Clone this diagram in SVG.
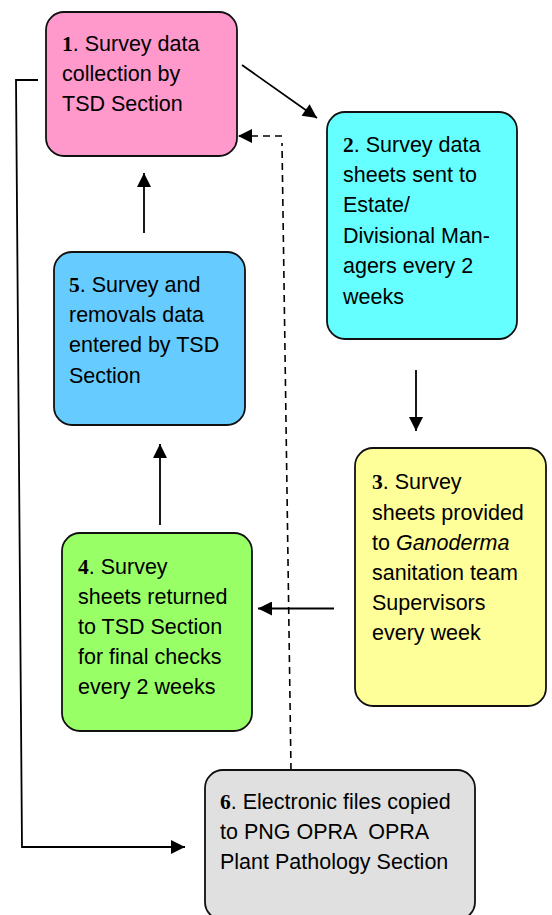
<svg xmlns="http://www.w3.org/2000/svg" width="552" height="915" viewBox="0 0 552 915">
<style>
.box{stroke:#111;stroke-width:1.8}
.t{font-family:"Liberation Sans",Arial,sans-serif;font-size:21.5px;fill:#000}
.n{font-family:"Liberation Serif","Times New Roman",serif;font-weight:bold}
.c{fill:none;stroke:#000;stroke-width:1.8}
.d{fill:none;stroke:#000;stroke-width:1.6;stroke-dasharray:7 5}
</style>
<defs>
<marker id="ah" viewBox="0 0 10 10" refX="10" refY="5" markerWidth="16" markerHeight="14" markerUnits="userSpaceOnUse" orient="auto">
<path d="M0,0 L10,5 L0,10 z" fill="#000"/>
</marker>
</defs>
<rect width="552" height="915" fill="#fff"/>
<g id="connectors">
<path class="c" d="M242,65 L317,118" marker-end="url(#ah)"/>
<path class="c" d="M416,370 L416,431" marker-end="url(#ah)"/>
<path class="c" d="M334,608.5 L258,608.5" marker-end="url(#ah)"/>
<path class="c" d="M160,525 L160,444" marker-end="url(#ah)"/>
<path class="c" d="M144,233 L144,173" marker-end="url(#ah)"/>
<path class="c" d="M38,80 L16,80 L22,847 L185,847" marker-end="url(#ah)"/>
<path class="d" d="M291,770 L282,143"/>
<path class="d" d="M282,136 L238,136" marker-end="url(#ah)"/>
</g>
<g id="node1">
<rect class="box" x="46" y="12" width="191" height="144" rx="18" fill="#FF99CC"/>
<text class="t" x="62" y="51"><tspan class="n">1</tspan>. Survey data</text>
<text class="t" x="62" y="81">collection by</text>
<text class="t" x="62" y="111">TSD Section</text>
</g>
<g id="node2">
<rect class="box" x="327" y="112" width="190" height="227" rx="18" fill="#66FFFF"/>
<text class="t" x="343" y="152"><tspan class="n">2</tspan>. Survey data</text>
<text class="t" x="343" y="182">sheets sent to</text>
<text class="t" x="343" y="212">Estate/</text>
<text class="t" x="343" y="243">Divisional Man-</text>
<text class="t" x="343" y="273">agers every 2</text>
<text class="t" x="343" y="304">weeks</text>
</g>
<g id="node3">
<rect class="box" x="355" y="448" width="191" height="258" rx="18" fill="#FFFF99"/>
<text class="t" x="372" y="489"><tspan class="n">3</tspan>. Survey</text>
<text class="t" x="372" y="520">sheets provided</text>
<text class="t" x="372" y="550">to <tspan font-style="italic">Ganoderma</tspan></text>
<text class="t" x="372" y="580">sanitation team</text>
<text class="t" x="372" y="610">Supervisors</text>
<text class="t" x="372" y="640">every week</text>
</g>
<g id="node4">
<rect class="box" x="62" y="533" width="190" height="198" rx="18" fill="#99FF66"/>
<text class="t" x="78" y="574"><tspan class="n">4</tspan>. Survey</text>
<text class="t" x="78" y="604">sheets returned</text>
<text class="t" x="78" y="634">to TSD Section</text>
<text class="t" x="78" y="664">for final checks</text>
<text class="t" x="78" y="694">every 2 weeks</text>
</g>
<g id="node5">
<rect class="box" x="54" y="252" width="191" height="173" rx="18" fill="#66CCFF"/>
<text class="t" x="69" y="292"><tspan class="n">5</tspan>. Survey and</text>
<text class="t" x="69" y="322">removals data</text>
<text class="t" x="69" y="352">entered by TSD</text>
<text class="t" x="69" y="383">Section</text>
</g>
<g id="node6">
<rect class="box" x="205" y="770" width="270" height="150" rx="18" fill="#E0E0E0"/>
<text class="t" x="220" y="809"><tspan class="n">6</tspan>. Electronic files copied</text>
<text class="t" x="220" y="839" xml:space="preserve">to PNG OPRA  OPRA</text>
<text class="t" x="220" y="869">Plant Pathology Section</text>
</g>
</svg>
